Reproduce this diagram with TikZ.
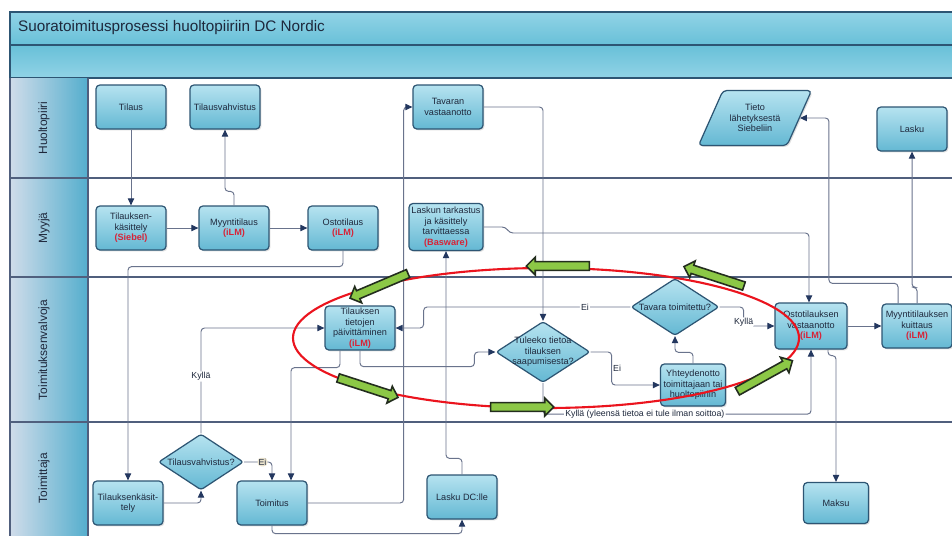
\documentclass[tikz,border=0pt]{standalone}
\usepackage{fontspec}
\setmainfont{Liberation Sans}
\usepackage{tikz}
\usetikzlibrary{positioning, arrows.meta, shapes.geometric, shapes.arrows, shadows}

\definecolor{boxtop}{RGB}{182,227,240}
\definecolor{boxbot}{RGB}{100,184,211}
\definecolor{boxline}{RGB}{45,85,115}
\definecolor{barblue}{RGB}{104,192,216}
\definecolor{barlight}{RGB}{145,211,230}
\definecolor{lanelight}{RGB}{208,220,234}
\definecolor{lanedark}{RGB}{84,174,205}
\definecolor{gridline}{RGB}{80,95,125}
\definecolor{wire}{RGB}{105,115,140}
\definecolor{tipc}{RGB}{35,55,95}
\definecolor{ilmred}{RGB}{215,35,55}
\definecolor{ringred}{RGB}{235,20,30}
\definecolor{arrowgreen}{RGB}{140,200,70}
\definecolor{arrowedge}{RGB}{35,45,30}
\definecolor{txt}{RGB}{30,40,60}

\newcommand{\sys}[1]{{\color{ilmred}\bfseries(#1)}}

\begin{document}
\begin{tikzpicture}[
    x=0.02cm, y=-0.02cm,
    font=\fontsize{5.2}{6}\selectfont,
    task/.style={rectangle, draw=boxline, line width=0.7pt, rounded corners=2.2pt, top color=boxtop, bottom color=boxbot, text=txt, align=center, minimum width=1.4cm, minimum height=0.88cm, inner sep=1pt, drop shadow={shadow xshift=0.8pt, shadow yshift=-0.8pt, opacity=0.25}},
    choice/.style={diamond, aspect=1.52, draw=boxline, line width=0.7pt, rounded corners=1.5pt, top color=boxtop, bottom color=boxbot, text=txt, align=center, inner sep=-1pt},
    flow/.style={draw=wire, line width=0.55pt, rounded corners=2pt, -{Triangle[length=4pt, width=3.6pt, color=tipc]}},
    lab/.style={fill=white, inner sep=0.6pt, text=txt, font=\fontsize{5}{5.5}\selectfont},
    lane/.style={rotate=90, text=txt, font=\fontsize{6.8}{7}\selectfont},
    bigarrow/.style={single arrow, draw=arrowedge, fill=arrowgreen, line width=0.9pt, inner sep=0pt, inner ysep=2pt, single arrow head extend=2.6pt, minimum height=1.26cm}
]
\useasboundingbox (0,0) rectangle (952,535);
\fill[white] (0,0) rectangle (952,535);

% title bars and lanes
\shade[top color=barlight, bottom color=barblue, draw=boxline, line width=0.8pt] (10,12) rectangle (958,45);
\shade[top color=barblue, bottom color=barlight, draw=boxline, line width=0.8pt] (10,45) rectangle (958,78);
\node[anchor=west, text=txt, font=\fontsize{8.7}{10}\selectfont] (title) at (12,28) {Suoratoimitusprosessi huoltopiiriin DC Nordic};
\shade[left color=lanelight, right color=lanedark] (10,78) rectangle (88,540);
\draw[gridline, line width=0.8pt] (10,78) -- (10,540) (88,78) -- (88,540);
\foreach \y in {178,277,422}
    \draw[gridline, line width=0.8pt] (10,\y) -- (958,\y);

\node[lane] (huolto) at (44,128) {Huoltopiiri};
\node[lane] (myyja) at (44,228) {Myyjä};
\node[lane] (valvoja) at (44,350) {Toimituksenvalvoja};
\node[lane] (toimittaja) at (44,478) {Toimittaja};

% Huoltopiiri
\node[task] (tilaus) at (131,107) {Tilaus};
\node[task] (tilvahv) at (225,107) {Tilausvahvistus};
\node[task] (tavaran) at (448,107) {Tavaran\\vastaanotto};
\node[task, trapezium, trapezium left angle=52, trapezium right angle=128, trapezium stretches body, minimum width=2.26cm, minimum height=1.1cm] (tieto) at (755,118) {Tieto\\lähetyksestä\\Siebeliin};
\node[task] (lasku) at (912,129) {Lasku};

% Myyja
\node[task] (kas1) at (131,228) {Tilauksen-\\käsittely\\\sys{Siebel}};
\node[task] (myynti) at (234,228) {Myyntitilaus\\\sys{iLM}};
\node[task] (osto) at (343,228) {Ostotilaus\\\sys{iLM}};
\node[task, minimum width=1.48cm, minimum height=0.94cm] (laskun) at (446,227) {Laskun tarkastus\\ja käsittely\\tarvittaessa\\\sys{Basware}};

% Toimituksenvalvoja
\node[task] (tietojen) at (360,328) {Tilauksen\\tietojen\\päivittäminen\\\sys{iLM}};
\node[choice, minimum width=1.88cm, minimum height=1.22cm, inner sep=-2pt] (tuleeko) at (543,352) {Tuleeko tietoa\\tilauksen\\saapumisesta?};
\node[choice, minimum width=1.76cm, minimum height=1.14cm] (tavara) at (675,307) {Tavara toimitettu?};
\node[task, minimum width=1.3cm, minimum height=0.84cm] (yhteyd) at (693,385) {Yhteydenotto\\toimittajaan tai\\huoltopiiriin};
\node[task, minimum width=1.44cm, minimum height=0.92cm] (ostovast) at (811,326) {Ostotilauksen\\vastaanotto\\\sys{iLM}};
\node[task] (myyntik) at (917,326) {Myyntitilauksen\\kuittaus\\\sys{iLM}};

% Toimittaja
\node[task] (kas2) at (128,503) {Tilauksenkäsit-\\tely};
\node[choice, minimum width=1.7cm, minimum height=1.12cm] (tilvahv2) at (201,462) {Tilausvahvistus?};
\node[task] (toimitus) at (272,503) {Toimitus};
\node[task] (laskudc) at (462,497) {Lasku DC:lle};
\node[task, minimum width=1.3cm, minimum height=0.82cm] (maksu) at (836,503) {Maksu};

\draw[flow] (tilaus.south) -- (kas1.north);
\draw[flow] (kas1.east) -- (myynti.west);
\draw[flow] (myynti.east) -- (osto.west);
\draw[flow] (myynti.north) -- ++(0,-14) -| (tilvahv.south);
\draw[flow] (osto.south) -- ++(0,16) -| (kas2.north);
\draw[flow] (kas2.east) -| (tilvahv2.south);
\draw[flow] (tilvahv2.north) |- node[pos=0.27, lab] {Kyllä} (tietojen.west);
\draw[flow] (tilvahv2.east) -| node[pos=0.33, lab, fill={rgb,255:red,236;green,228;blue,205}] {Ei} (toimitus.north);
\draw[flow] ([xshift=-0.4cm]tietojen.south) -- ++(0,17) -| ([xshift=0.38cm]toimitus.north);
\draw[flow] (tietojen.south) -- ++(0,16) -| ([xshift=-0.42cm]tuleeko.west) -- (tuleeko.west);
\draw[flow] (toimitus.east) -- ++(96,0) |- (tavaran.west);
\draw[flow] (tavaran.east) -| (tuleeko.north);
\draw[flow] (toimitus.south) -- ++(0,8) -| (laskudc.south);
\draw[flow] (laskudc.north) -- ++(0,-16) -| (laskun.south);
\draw[flow] (laskun.east) -- ++(22,0) -- ++(4,6) -| ([xshift=-0.04cm]ostovast.north);
\draw[flow] (tuleeko.east) -- ++(21,0) |- node[pos=0.25, right, lab] {Ei} (yhteyd.west);
\draw[flow] (tuleeko.south) -- ++(0,31) -| node[pos=0.19, lab] {Kyllä (yleensä tietoa ei tule ilman soittoa)} (ostovast.south);
\draw[flow] (yhteyd.north) -- ++(0,-11) -| (tavara.south);
\draw[flow] (tavara.west) -| node[pos=0.11, lab] {Ei} ([xshift=0.56cm]tietojen.east) -- (tietojen.east);
\draw[flow] (tavara.east) -- ++(24,0) |- node[pos=0.5, lab, yshift=2pt] {Kyllä} (ostovast.west);
\draw[flow] (ostovast.east) -- (myyntik.west);
\draw[flow] ([xshift=0.34cm]ostovast.south) -- ++(0,6) -| (maksu.north);
\draw[flow] ([xshift=-0.38cm]myyntik.north) -- ++(0,-20) -| ([xshift=0.58cm]tieto.east) -- (tieto.east);
\draw[flow] (myyntik.north) -- ++(0,-16) -| (lasku.south);

% highlighted loop
\draw[ringred, line width=1.2pt] (546,338) ellipse [x radius=253, y radius=70];
\node[bigarrow, rotate=203] (ga1) at (381,285) {};
\node[bigarrow, rotate=180] (ga2) at (560,266) {};
\node[bigarrow, rotate=162] (ga3) at (716,277) {};
\node[bigarrow, rotate=29] (ga4) at (763,377) {};
\node[bigarrow] (ga5) at (520,407) {};
\node[bigarrow, rotate=-18] (ga6) at (366,387) {};

\end{tikzpicture}
\end{document}
